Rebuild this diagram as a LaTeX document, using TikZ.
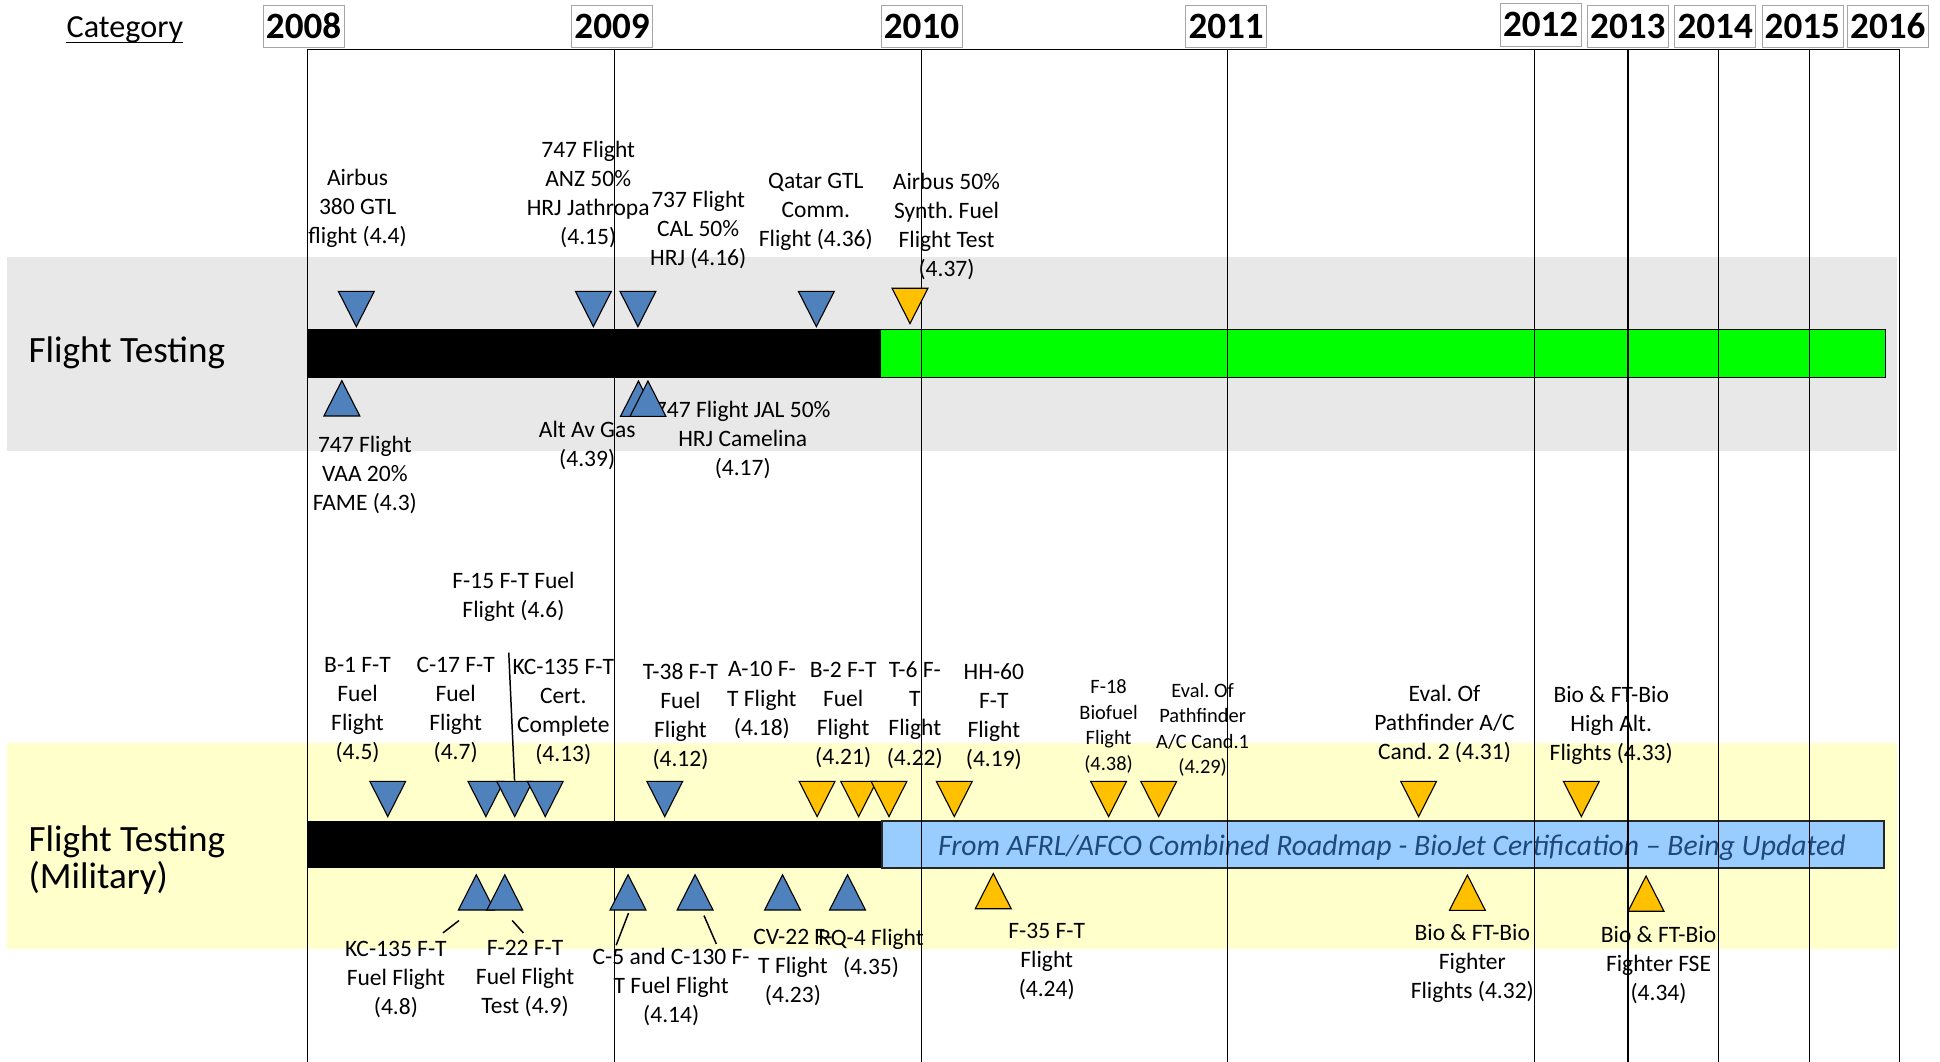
\documentclass[tikz,border=0pt]{standalone}
\usepackage{fontspec}
\setmainfont{Carlito}
\usepackage{tikz}
\frenchspacing
\definecolor{tblue}{RGB}{79,129,189}
\definecolor{tyel}{RGB}{255,192,0}
\definecolor{bandgray}{RGB}{232,232,232}
\definecolor{bandyel}{RGB}{255,255,204}
\definecolor{bargreen}{RGB}{0,255,0}
\definecolor{barblue}{RGB}{153,204,255}
\definecolor{txtblue}{RGB}{31,73,125}
\tikzset{
  lbl/.style = {align=center, inner sep=0pt,
    font=\fontsize{19}{23.5}\selectfont},% event label
  lbl_s/.style = {lbl, font=\fontsize{16.5}{20.6}\selectfont},% small event label
  cat/.style = {align=left, anchor=west, inner sep=0pt,
    font=\fontsize{30}{29.7}\selectfont},% category name
  yr/.style = {draw=gray!70, fill=white, inner sep=0pt, minimum width=65.5,
    minimum height=34, font=\fontsize{30}{30}\selectfont\bfseries},% year box
  grid_ln/.style = {line width=0.9pt},% year line
  lead/.style = {line width=1.2pt},% leader line
  tri/.style = {draw=black, line width=0.9pt},% milestone outline
  tri_dn/.pic = {\path[tri, fill=#1] (0,0) -- (-14.5,-28.5) -- (14.5,-28.5) -- cycle;},
  tri_up/.pic = {\path[tri, fill=#1] (0,0) -- (-14.5,28.5) -- (14.5,28.5) -- cycle;}
}

\begin{document}
\begin{tikzpicture}[x=1pt, y=-1pt]
\useasboundingbox (0,0) rectangle (1568,858);
% bands
\fill[bandgray] (6,207.5) rectangle (1533,364.3);
\fill[bandyel] (6,600.8) rectangle (1533,767);
% bars
\fill[black] (248.7,266) rectangle (712,305.3);
\filldraw[fill=bargreen, draw=black, line width=0.9pt] (712,266) rectangle (1524,305.3);
\fill[black] (248.7,663.6) rectangle (712.6,701.4);
\filldraw[fill=barblue, draw=black!85, line width=1.5pt] (712.6,663.6) rectangle (1522.6,701.6);
\node[font=\fontsize{24}{24}\selectfont\itshape, text=txtblue] (t_afrl) at (1125,685)
  {From AFRL/AFCO Combined Roadmap - BioJet Certification – Being Updated};
% time axis
\draw[grid_ln] (248.7,39.9) -- (1535.5,39.9);
\draw[grid_ln] (248.7,39.9) -- (248.7,858) (497,39.9) -- (497,858)
  (744.8,39.9) -- (744.8,858) (992,39.9) -- (992,858)
  (1240.5,39.9) -- (1240.5,858) (1315.8,39.9) -- (1315.8,858)
  (1389.3,39.9) -- (1389.3,858) (1462.4,39.9) -- (1462.4,858)
  (1535.5,39.9) -- (1535.5,858);
\node[yr] (y2008) at (245.4,21) {2008};
\node[yr] (y2009) at (494.7,21) {2009};
\node[yr] (y2010) at (744.8,21) {2010};
\node[yr] (y2011) at (991,21) {2011};
\node[yr] (y2012) at (1245.2,20) {2012};
\node[yr] (y2013) at (1315.7,21) {2013};
\node[yr] (y2014) at (1386.3,21) {2014};
\node[yr] (y2015) at (1456.7,21) {2015};
\node[yr] (y2016) at (1525.8,21) {2016};
\node[anchor=base, inner sep=0pt, font=\fontsize{26}{26}\selectfont] (cat_hd) at (101,30.4) {Category};
\draw[line width=1.4pt] ([yshift=-4pt]cat_hd.base west) -- ([yshift=-4pt]cat_hd.base east);
% categories
\node[cat] (c_ft) at (22.9,285.5) {Flight Testing};
\node[cat] (c_ftm) at (22.9,695) {Flight Testing\\(Military)};
% flight testing labels
\node[lbl] (l_a380) at (289,168.4) {Airbus\\380 GTL\\flight (4.4)};
\node[lbl] (l_anz) at (475.4,157) {747 Flight\\ANZ 50\%\\HRJ Jathropa\\(4.15)};
\node[lbl] (l_cal) at (564.3,185.6) {737 Flight\\CAL 50\%\\HRJ (4.16)};
\node[lbl] (l_qat) at (659.4,171.3) {Qatar GTL\\Comm.\\Flight (4.36)};
\node[lbl] (l_a50) at (765,182.8) {Airbus 50\%\\Synth. Fuel\\Flight Test\\(4.37)};
\node[lbl] (l_vaa) at (294.9,384.2) {747 Flight\\VAA 20\%\\FAME (4.3)};
\node[lbl] (l_alt) at (474.6,360.4) {Alt Av Gas\\(4.39)};
\node[lbl] (l_jal) at (600.3,355.6) {747 Flight JAL 50\%\\HRJ Camelina\\(4.17)};
% military labels
\node[lbl] (l_b1) at (289,573.9) {B-1 F-T\\Fuel\\Flight\\(4.5)};
\node[lbl] (l_c17) at (368.3,573.9) {C-17 F-T\\Fuel\\Flight\\(4.7)};
\node[lbl] (l_f15) at (415,482.7) {F-15 F-T Fuel\\Flight (4.6)};
\node[lbl] (l_kc13) at (455.3,575.2) {KC-135 F-T\\Cert.\\Complete\\(4.13)};
\node[lbl] (l_t38) at (550,579) {T-38 F-T\\Fuel\\Flight\\(4.12)};
\node[lbl] (l_a10) at (615.8,565.8) {A-10 F-\\T Flight\\(4.18)};
\node[lbl] (l_b2) at (681.5,578.2) {B-2 F-T\\Fuel\\Flight\\(4.21)};
\node[lbl] (l_t6) at (739.4,578) {T-6 F-\\T\\Flight\\(4.22)};
\node[lbl] (l_hh) at (803.3,579) {HH-60\\F-T\\Flight\\(4.19)};
\node[lbl_s] (l_f18) at (896,587.3) {F-18\\Biofuel\\Flight\\(4.38)};
\node[lbl_s] (l_ev1) at (972,589.8) {Eval. Of\\Pathfinder\\A/C Cand.1\\(4.29)};
\node[lbl] (l_ev2) at (1167.5,585) {Eval. Of\\Pathfinder A/C\\Cand. 2 (4.31)};
\node[lbl] (l_hi) at (1302.3,586) {Bio \& FT-Bio\\High Alt.\\Flights (4.33)};
\node[lbl] (l_kc8) at (320,792) {KC-135 F-T\\Fuel Flight\\(4.8)};
\node[lbl] (l_f22) at (424.4,790.8) {F-22 F-T\\Fuel Flight\\Test (4.9)};
\node[lbl] (l_c5) at (542.5,798) {C-5 and C-130 F-\\T Fuel Flight\\(4.14)};
\node[lbl] (l_cv) at (640.9,782) {CV-22 F-\\T Flight\\(4.23)};
\node[lbl] (l_rq) at (704,770.5) {RQ-4 Flight\\(4.35)};
\node[lbl] (l_f35) at (846,777) {F-35 F-T\\Flight\\(4.24)};
\node[lbl] (l_bf) at (1190,778.6) {Bio \& FT-Bio\\Fighter\\Flights (4.32)};
\node[lbl] (l_fse) at (1340.5,780) {Bio \& FT-Bio\\Fighter FSE\\(4.34)};
% leader lines
\coordinate (f15_a) at (411.2,527.5);
\coordinate (f15_b) at (415.9,631);
\coordinate (kc8_a) at (371,744);
\coordinate (kc8_b) at (358,754);
\coordinate (f22_a) at (414,744);
\coordinate (f22_b) at (423,754);
\coordinate (c5_a) at (508,738);
\coordinate (c5_b) at (498,764);
\coordinate (c130_a) at (569,740);
\coordinate (c130_b) at (579,763);
\draw[lead] (f15_a) -- (f15_b);
\draw[lead] (kc8_a) -- (kc8_b);
\draw[lead] (f22_a) -- (f22_b);
\draw[lead] (c5_a) -- (c5_b);
\draw[lead] (c130_a) -- (c130_b);
% flight testing milestones
\pic at (288,264) {tri_dn=tblue};
\pic at (479.6,264) {tri_dn=tblue};
\pic at (515.6,264) {tri_dn=tblue};
\pic at (659.8,264) {tri_dn=tblue};
\pic at (735.5,261.5) {tri_dn=tyel};
\pic at (276.3,307.7) {tri_up=tblue};
\pic at (516,308) {tri_up=tblue};
\pic at (523.7,308) {tri_up=tblue};
% military milestones
\pic at (313.4,660) {tri_dn=tblue};
\pic at (392.7,660) {tri_dn=tblue};
\pic at (416,660) {tri_dn=tblue};
\pic at (440.7,660) {tri_dn=tblue};
\pic at (537.3,660) {tri_dn=tblue};
\pic at (660.4,660) {tri_dn=tyel};
\pic at (694,660) {tri_dn=tyel};
\pic at (718.5,660) {tri_dn=tyel};
\pic at (771.3,660) {tri_dn=tyel};
\pic at (896,660) {tri_dn=tyel};
\pic at (936.5,660) {tri_dn=tyel};
\pic at (1146.6,660) {tri_dn=tyel};
\pic at (1278.1,660) {tri_dn=tyel};
\pic at (385,707) {tri_up=tblue};
\pic at (408,707) {tri_up=tblue};
\pic at (507.6,707) {tri_up=tblue};
\pic at (561.8,707) {tri_up=tblue};
\pic at (632.5,707) {tri_up=tblue};
\pic at (685,707) {tri_up=tblue};
\pic at (802.8,706) {tri_up=tyel};
\pic at (1186,707.3) {tri_up=tyel};
\pic at (1330.4,708) {tri_up=tyel};
\end{tikzpicture}
\end{document}
